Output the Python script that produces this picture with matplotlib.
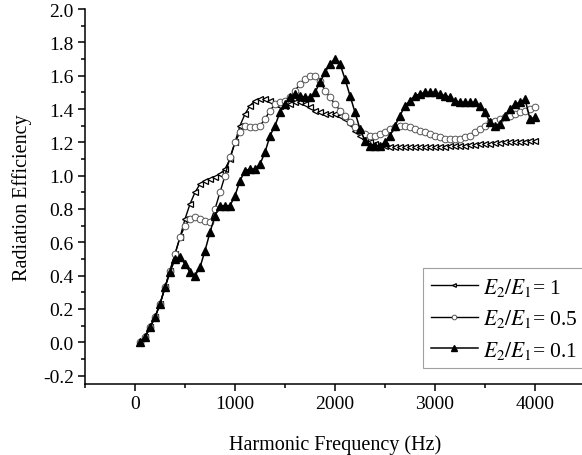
import matplotlib
matplotlib.use("Agg")
import matplotlib.pyplot as plt
from matplotlib.ticker import MultipleLocator

plt.rcParams['font.family'] = ['Liberation Serif', 'DejaVu Serif']
plt.rcParams['mathtext.fontset'] = 'stix'

# harmonic frequencies (Hz)
freq = list(range(50, 4001, 50))

# E2/E1 = 1
eff_1 = [0.00, 0.03, 0.09, 0.15, 0.23, 0.33, 0.43, 0.53, 0.63, 0.74,
         0.83, 0.90, 0.95, 0.97, 0.98, 0.99, 1.01, 1.04, 1.10, 1.20,
         1.30, 1.37, 1.42, 1.45, 1.46, 1.46, 1.45, 1.43, 1.42, 1.42,
         1.43, 1.44, 1.44, 1.43, 1.41, 1.39, 1.38, 1.37, 1.37, 1.37,
         1.36, 1.34, 1.31, 1.27, 1.24, 1.22, 1.20, 1.19, 1.18, 1.18,
         1.175, 1.17, 1.17, 1.17, 1.17, 1.17, 1.17, 1.17, 1.17, 1.17,
         1.175, 1.175, 1.18, 1.18, 1.18, 1.18, 1.185, 1.185, 1.19, 1.19,
         1.19, 1.195, 1.195, 1.20, 1.20, 1.20, 1.205, 1.205, 1.21, 1.21]

# E2/E1 = 0.5
eff_05 = [0.00, 0.03, 0.09, 0.15, 0.23, 0.33, 0.43, 0.53, 0.63, 0.70,
          0.74, 0.75, 0.74, 0.73, 0.72, 0.80, 0.90, 1.00, 1.11, 1.20,
          1.26, 1.30, 1.29, 1.29, 1.30, 1.34, 1.39, 1.43, 1.44, 1.45,
          1.47, 1.51, 1.55, 1.58, 1.60, 1.60, 1.57, 1.51, 1.47, 1.43,
          1.39, 1.36, 1.32, 1.29, 1.27, 1.25, 1.24, 1.24, 1.25, 1.26,
          1.28, 1.29, 1.30, 1.30, 1.29, 1.28, 1.27, 1.26, 1.25, 1.24,
          1.23, 1.22, 1.22, 1.22, 1.22, 1.23, 1.24, 1.26, 1.28, 1.30,
          1.32, 1.33, 1.34, 1.35, 1.36, 1.37, 1.38, 1.39, 1.40, 1.41]

# E2/E1 = 0.1
eff_01 = [0.00, 0.03, 0.09, 0.15, 0.23, 0.33, 0.42, 0.50, 0.51, 0.47,
          0.42, 0.40, 0.45, 0.55, 0.66, 0.76, 0.82, 0.82, 0.82, 0.88,
          0.97, 1.03, 1.04, 1.04, 1.07, 1.14, 1.24, 1.30, 1.38, 1.43,
          1.47, 1.49, 1.48, 1.47, 1.47, 1.50, 1.56, 1.62, 1.67, 1.70,
          1.67, 1.58, 1.48, 1.38, 1.28, 1.21, 1.18, 1.18, 1.18, 1.20,
          1.24, 1.30, 1.36, 1.42, 1.45, 1.48, 1.49, 1.50, 1.50, 1.50,
          1.49, 1.48, 1.47, 1.45, 1.44, 1.44, 1.44, 1.44, 1.42, 1.38,
          1.32, 1.30, 1.31, 1.36, 1.40, 1.43, 1.44, 1.46, 1.34, 1.35]

fig = plt.figure(figsize=(5.82, 4.56), dpi=100)
ax = fig.add_axes([85 / 582, 71 / 456, 500 / 582, 375 / 456])

ax.plot(freq, eff_1, color='black', lw=1.0, marker='<', ms=3.8,
        mfc='white', mec='black', mew=0.9, label=r'$E_2/E_1$= 1')
ax.plot(freq, eff_05, color='black', lw=1.0, marker='o', ms=4.8,
        mfc='white', mec='#555555', mew=0.7, label=r'$E_2/E_1$= 0.5')
ax.plot(freq, eff_01, color='black', lw=1.1, marker='^', ms=5.2,
        mfc='black', mec='black', label=r'$E_2/E_1$= 0.1')

ax.set_xlim(-500, 4500)
ax.set_ylim(-0.25, 2.0)
ax.xaxis.set_major_locator(MultipleLocator(1000))
ax.xaxis.set_minor_locator(MultipleLocator(500))
ax.yaxis.set_major_locator(MultipleLocator(0.2))
ax.yaxis.set_minor_locator(MultipleLocator(0.1))
ax.yaxis.set_major_formatter(plt.FuncFormatter(lambda v, p: f"{v:.1f}"))

ax.spines['top'].set_visible(False)
ax.spines['right'].set_visible(False)
ax.spines['left'].set_linewidth(1.1)
ax.spines['bottom'].set_linewidth(1.1)
ax.tick_params(which='major', direction='out', length=5, width=1.1,
               labelsize=14, pad=3)
ax.tick_params(which='minor', direction='out', length=3, width=1.1)

ax.set_xlabel('Harmonic Frequency (Hz)', fontsize=14.5, labelpad=16)
ax.set_ylabel('Radiation Efficiency', fontsize=14.5, labelpad=8)

leg = ax.legend(loc='upper left', bbox_to_anchor=(423 / 582, 187 / 456),
                bbox_transform=fig.transFigure, fontsize=15.5, frameon=True,
                fancybox=False, edgecolor='#888888', handlelength=2.2,
                borderpad=0.35, labelspacing=0.45, handletextpad=0.25,
                markerscale=0.7, borderaxespad=0)
leg.get_frame().set_linewidth(0.8)

fig.savefig('out.png', dpi=100)
